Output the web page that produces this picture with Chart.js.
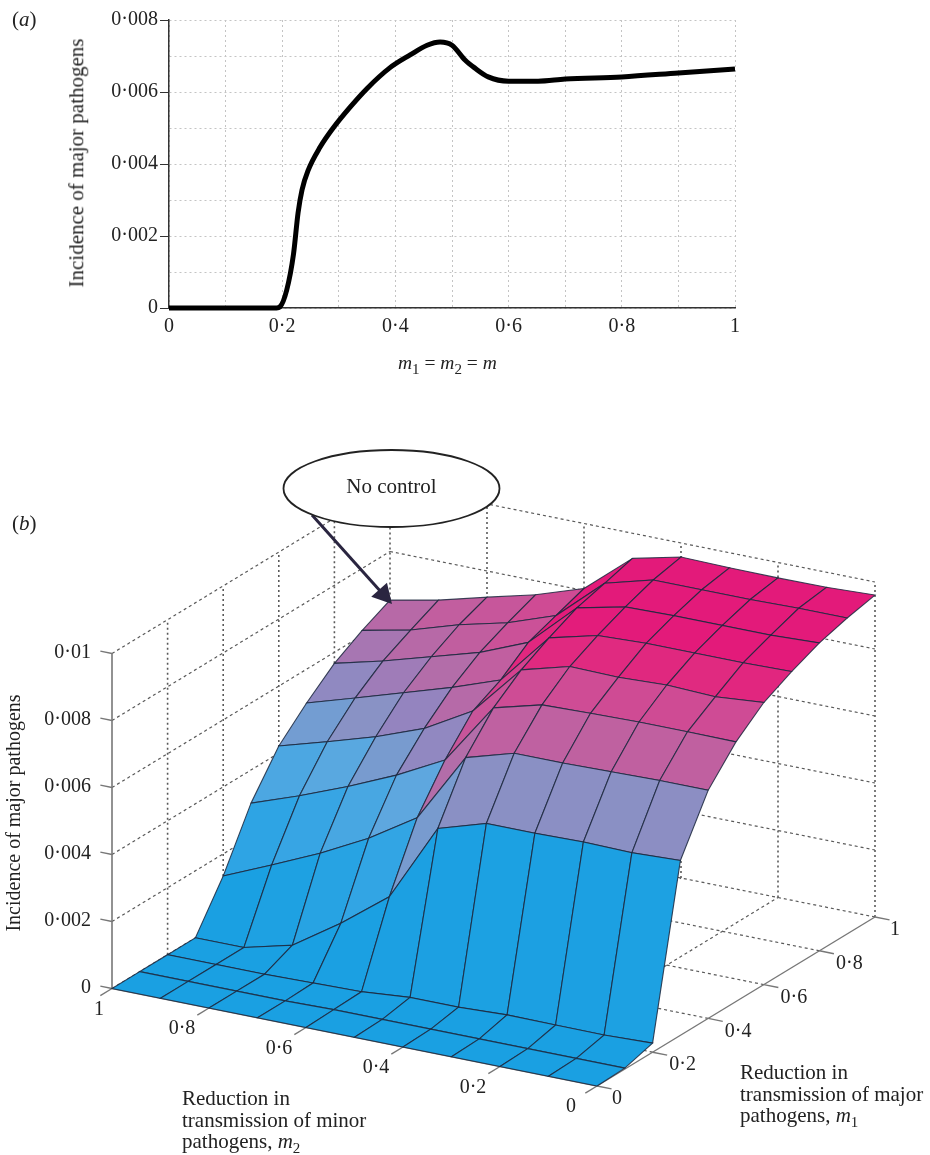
<!DOCTYPE html>
<html>
<head>
<meta charset="utf-8">
<title>Incidence of major pathogens</title>
<script src="https://cdn.jsdelivr.net/npm/chart.js@4/dist/chart.umd.min.js"></script>
<style>
    html, body { margin: 0; padding: 0; background: #fff; }
    #page { position: relative; width: 930px; height: 1155px; overflow: hidden; font-family: "Liberation Serif", serif; font-size: 21px; color: #222; }
    canvas { position: absolute; left: 0; }
    #chartA { top: 0; }
    #chartB { top: 400px; }
    .note { position: absolute; white-space: nowrap; line-height: 21.5px; }
    .note sub { font-size: 15px; line-height: 0; }
    .turned { transform: translate(-50%, -50%) rotate(-90deg); }
</style>
</head>
<body>
<div id="page">
    <canvas id="chartA" width="930" height="400"></canvas>
    <canvas id="chartB" width="930" height="755"></canvas>
    <div class="note" style="left:12px;top:9px">(<i>a</i>)</div>
    <div class="note" style="left:398px;top:352px;font-size:19.5px"><i>m</i><sub>1</sub> = <i>m</i><sub>2</sub> = <i>m</i></div>
    <div class="note turned" style="left:77px;top:163px">Incidence of major pathogens</div>
    <div class="note" style="left:12px;top:513px">(<i>b</i>)</div>
    <div class="note turned" style="left:14px;top:813px;font-size:20px">Incidence of major pathogens</div>
    <div class="note" style="left:182px;top:1088px">Reduction in<br>transmission of minor<br>pathogens, <i>m</i><sub>2</sub></div>
    <div class="note" style="left:740px;top:1062px">Reduction in<br>transmission of major<br>pathogens, <i>m</i><sub>1</sub></div>
</div>
<script>
// panel (a): incidence along m1 = m2 = m
const curveM = [0, 0.1, 0.19, 0.196, 0.208, 0.22, 0.228, 0.235, 0.246, 0.267, 0.29, 0.32, 0.35, 0.39, 0.426, 0.456, 0.479, 0.5, 0.523, 0.54, 0.564, 0.6, 0.652, 0.7, 0.8, 0.9, 1];
const curveIncidence = [0, 0, 0, 0.00003, 0.0005, 0.0015, 0.00264, 0.00328, 0.00383, 0.00447, 0.005, 0.00558, 0.0061, 0.00667, 0.00703, 0.0073, 0.00739, 0.0073, 0.00689, 0.00667, 0.00642, 0.0063, 0.0063, 0.00636, 0.00642, 0.00653, 0.00664];
const xTickLabels = ['0', '0·2', '0·4', '0·6', '0·8', '1'];
const yTickLabels = ['0', '0·002', '0·004', '0·006', '0·008'];

// panel (b): one row of incidence per m1 = 0, 0.1 ... 1, each running m2 = 0, 0.1 ... 1
const row00 = [0, 0, 0, 0, 0, 0, 0, 0, 0, 0, 0];
const row01 = [0.00003, 0.00003, 0.00003, 0.00003, 0.00003, 0.00003, 0.00003, 0, 0, 0, 0];
const row02 = [0.00027, 0.00022, 0.00023, 0.00024, 0.00018, 0.00018, 0.00006, 0.00003, 0, 0, 0];
const row03 = [0.00522, 0.00516, 0.00519, 0.00516, 0.00516, 0.00472, 0.00239, 0.00131, 0.00036, 0, 0];
const row04 = [0.00681, 0.00681, 0.00678, 0.00675, 0.00675, 0.00633, 0.00424, 0.00334, 0.0026, 0.00196, 0.00134];
const row05 = [0.00775, 0.00776, 0.00776, 0.00773, 0.00769, 0.00731, 0.00546, 0.00472, 0.00409, 0.00352, 0.00301];
const row06 = [0.00842, 0.0083, 0.00836, 0.0083, 0.00833, 0.00794, 0.00642, 0.00561, 0.00507, 0.00463, 0.00421];
const row07 = [0.00884, 0.00881, 0.00881, 0.00881, 0.00875, 0.00839, 0.00684, 0.00633, 0.00588, 0.00543, 0.00499];
const row08 = [0.00919, 0.00913, 0.00913, 0.00913, 0.0091, 0.00878, 0.00746, 0.00687, 0.00645, 0.00603, 0.00567];
const row09 = [0.00943, 0.00943, 0.0094, 0.0094, 0.0094, 0.00901, 0.00776, 0.00725, 0.0069, 0.00645, 0.00615];
const row10 = [0.00961, 0.00955, 0.00954, 0.00955, 0.00958, 0.00925, 0.00806, 0.00758, 0.00722, 0.00684, 0.00655];
const surfaceRows = [row00, row01, row02, row03, row04, row05, row06, row07, row08, row09, row10];
const gridSteps = [0, 0.1, 0.2, 0.3, 0.4, 0.5, 0.6, 0.7, 0.8, 0.9, 1];

const zTicks = [0, 0.002, 0.004, 0.006, 0.008, 0.01];
const zTickLabels = ['0', '0·002', '0·004', '0·006', '0·008', '0·01'];
const m2Ticks = [0, 0.2, 0.4, 0.6, 0.8, 1];
const m2TickLabels = ['0', '0·2', '0·4', '0·6', '0·8', '1'];
const m1Ticks = [0, 0.2, 0.4, 0.6, 0.8, 1];
const m1TickLabels = ['0', '0·2', '0·4', '0·6', '0·8', '1'];

// the view of the 3d box, in page pixels
function project(m1, m2, z) {
    return {
        x: 597 + 278 * m1 - 485 * m2,
        y: 1086 - 169 * m1 - 97.5 * m2 - 33500 * z
    };
}

const colourStops = [
    [0, [26, 160, 226]],
    [0.0024, [50, 165, 228]],
    [0.0042, [92, 168, 224]],
    [0.0050, [135, 148, 198]],
    [0.0057, [150, 130, 190]],
    [0.0062, [176, 112, 172]],
    [0.0068, [192, 96, 160]],
    [0.0078, [208, 74, 148]],
    [0.0083, [224, 42, 128]],
    [0.0088, [227, 26, 122]],
    [0.0100, [227, 26, 122]]
];

function surfaceColour(z) {
    for (let i = 1; i < colourStops.length; i++) {
        const [z0, c0] = colourStops[i - 1];
        const [z1, c1] = colourStops[i];
        if (z <= z1) {
            const t = (z - z0) / (z1 - z0);
            const mix = c0.map((c, k) => Math.round(c + (c1[k] - c) * t));
            return `rgb(${mix[0]},${mix[1]},${mix[2]})`;
        }
    }
    return 'rgb(227,26,122)';
}

new Chart(document.getElementById('chartA'), {
    type: 'scatter',
    data: {
        datasets: [{
            data: curveM.map((m, i) => ({ x: m, y: curveIncidence[i] })),
            showLine: true,
            borderColor: '#000',
            borderWidth: 5,
            pointRadius: 0,
            cubicInterpolationMode: 'monotone',
            clip: false
        }]
    },
    options: {
        responsive: false,
        animation: false,
        layout: { padding: { left: 62, right: 195, top: 20, bottom: 0 } },
        plugins: { legend: { display: false }, tooltip: { enabled: false } },
        scales: {
            x: {
                type: 'linear',
                min: 0,
                max: 1,
                afterFit: scale => { scale.height = 92; },
                afterBuildTicks: scale => {
                    scale.ticks = gridSteps.map(v => ({ value: v }));
                },
                grid: { color: '#c4c4c4', tickLength: 6, tickColor: 'transparent' },
                border: { color: '#333', width: 1.5, dash: [2, 3] },
                ticks: {
                    autoSkip: false,
                    maxRotation: 0,
                    padding: 1,
                    color: '#222',
                    font: { family: 'Liberation Serif', size: 20 },
                    callback: (value, index) => index % 2 === 0 ? xTickLabels[index / 2] : ''
                }
            },
            y: {
                type: 'linear',
                min: 0,
                max: 0.008,
                afterFit: scale => { scale.width = 107; },
                afterBuildTicks: scale => {
                    scale.ticks = [0, 0.001, 0.002, 0.003, 0.004, 0.005, 0.006, 0.007, 0.008].map(v => ({ value: v }));
                },
                grid: {
                    color: '#c4c4c4',
                    tickLength: 9,
                    tickColor: ctx => ctx.index % 2 === 0 ? '#333' : 'transparent'
                },
                border: { color: '#333', width: 1.5, dash: [2, 3] },
                ticks: {
                    autoSkip: false,
                    padding: 2,
                    color: '#222',
                    font: { family: 'Liberation Serif', size: 20 },
                    callback: (value, index) => index % 2 === 0 ? yTickLabels[index / 2] : ''
                }
            }
        }
    }
});

function wireLine(points, colour, dash, width) {
    return {
        data: points,
        showLine: true,
        borderColor: colour,
        borderWidth: width,
        borderDash: dash,
        pointRadius: 0,
        fill: false,
        clip: false
    };
}

// first dataset is painted last, so the cells nearest the viewer come first
const bDatasets = [];
for (let i = 0; i < 10; i++) {
    for (let j = 0; j < 10; j++) {
        const corners = [
            project(gridSteps[i], gridSteps[j], surfaceRows[i][j]),
            project(gridSteps[i + 1], gridSteps[j], surfaceRows[i + 1][j]),
            project(gridSteps[i + 1], gridSteps[j + 1], surfaceRows[i + 1][j + 1]),
            project(gridSteps[i], gridSteps[j + 1], surfaceRows[i][j + 1])
        ];
        corners.push(corners[0]);
        bDatasets.push({
            data: corners,
            showLine: true,
            borderColor: 'rgba(28,40,62,0.85)',
            borderWidth: 1.1,
            backgroundColor: surfaceColour(surfaceRows[i][j]),
            fill: 'shape',
            pointRadius: 0,
            clip: false
        });
    }
}

// solid axes and their ticks
const axisGrey = '#777';
bDatasets.push(wireLine([project(0, 1, 0), project(0, 1, 0.01)], axisGrey, [], 1.6));
bDatasets.push(wireLine([project(0, 1, 0), project(0, 0, 0)], axisGrey, [], 1.4));
bDatasets.push(wireLine([project(0, 0, 0), project(1, 0, 0)], axisGrey, [], 1.4));
zTicks.forEach(z => bDatasets.push(wireLine([project(0, 1, z), project(0, 1.024, z)], axisGrey, [], 1.4)));
m2Ticks.forEach(m => bDatasets.push(wireLine([project(0, m, 0), project(-0.042, m, 0)], axisGrey, [], 1.4)));
m1Ticks.forEach(m => bDatasets.push(wireLine([project(m, 0, 0), project(m, -0.03, 0)], axisGrey, [], 1.4)));

// dashed box behind the surface
const wireGrey = '#5a5a5a';
zTicks.slice(1).forEach(z => {
    bDatasets.push(wireLine([project(0, 1, z), project(1, 1, z)], wireGrey, [3, 3], 1.2));
    bDatasets.push(wireLine([project(1, 1, z), project(1, 0, z)], wireGrey, [3, 3], 1.2));
});
m1Ticks.slice(1).forEach(m => {
    bDatasets.push(wireLine([project(m, 1, 0), project(m, 1, 0.01)], wireGrey, [2, 3], 1.6));
    bDatasets.push(wireLine([project(m, 0, 0), project(m, 1, 0)], wireGrey, [3, 3], 1.2));
});
m2Ticks.slice(0, 5).forEach(m => {
    bDatasets.push(wireLine([project(1, m, 0), project(1, m, 0.01)], wireGrey, [2, 3], 1.6));
});
m2Ticks.slice(1).forEach(m => {
    bDatasets.push(wireLine([project(0, m, 0), project(1, m, 0)], wireGrey, [3, 3], 1.2));
});

const boxText = {
    id: 'boxText',
    afterDatasetsDraw(chart) {
        const ctx = chart.ctx;
        const sx = chart.scales.x;
        const sy = chart.scales.y;
        const px = p => ({ x: sx.getPixelForValue(p.x), y: sy.getPixelForValue(p.y) });

        ctx.save();
        ctx.fillStyle = '#222';
        ctx.font = '20px "Liberation Serif"';
        ctx.textBaseline = 'middle';

        ctx.textAlign = 'right';
        zTicks.forEach((z, i) => {
            const p = px(project(0, 1, z));
            ctx.fillText(zTickLabels[i], p.x - 21, p.y - 1);
        });

        ctx.textAlign = 'center';
        m2Ticks.forEach((m, i) => {
            const p = px(project(0, m, 0));
            const dx = m2TickLabels[i].length > 1 ? -27 : (m === 0 ? -26 : -13);
            ctx.fillText(m2TickLabels[i], p.x + dx, p.y + 21);
        });
        m1Ticks.forEach((m, i) => {
            const p = px(project(m, 0, 0));
            const dx = m1TickLabels[i].length > 1 ? 30 : 20;
            ctx.fillText(m1TickLabels[i], p.x + dx, p.y + 13);
        });

        // "No control" callout pointing at the corner m1 = m2 = 1
        const corner = project(1, 1, row10[10]);
        const tip = px({ x: corner.x + 2, y: corner.y + 4 });
        const tail = px({ x: 312, y: 515 });
        const angle = Math.atan2(tip.y - tail.y, tip.x - tail.x);
        ctx.strokeStyle = '#2a2540';
        ctx.lineWidth = 3;
        ctx.beginPath();
        ctx.moveTo(tail.x, tail.y);
        ctx.lineTo(tip.x - 10 * Math.cos(angle), tip.y - 10 * Math.sin(angle));
        ctx.stroke();
        ctx.fillStyle = '#2a2540';
        ctx.beginPath();
        ctx.moveTo(tip.x, tip.y);
        ctx.lineTo(tip.x - 22 * Math.cos(angle - 0.5), tip.y - 22 * Math.sin(angle - 0.5));
        ctx.lineTo(tip.x - 22 * Math.cos(angle + 0.5), tip.y - 22 * Math.sin(angle + 0.5));
        ctx.closePath();
        ctx.fill();

        const c = px({ x: 391.5, y: 488.5 });
        ctx.beginPath();
        ctx.ellipse(c.x, c.y, 108, 38.5, 0, 0, Math.PI * 2);
        ctx.fillStyle = '#fff';
        ctx.fill();
        ctx.strokeStyle = '#222';
        ctx.lineWidth = 1.8;
        ctx.stroke();

        ctx.fillStyle = '#222';
        ctx.font = '21px "Liberation Serif"';
        ctx.textAlign = 'center';
        ctx.fillText('No control', c.x, c.y - 1);
        ctx.restore();
    }
};

new Chart(document.getElementById('chartB'), {
    type: 'scatter',
    data: { datasets: bDatasets },
    plugins: [boxText],
    options: {
        responsive: false,
        animation: false,
        layout: { padding: 0 },
        plugins: { legend: { display: false }, tooltip: { enabled: false } },
        scales: {
            x: { type: 'linear', min: 0, max: 930, display: false },
            y: { type: 'linear', min: 400, max: 1155, reverse: true, display: false }
        }
    }
});
</script>
</body>
</html>
